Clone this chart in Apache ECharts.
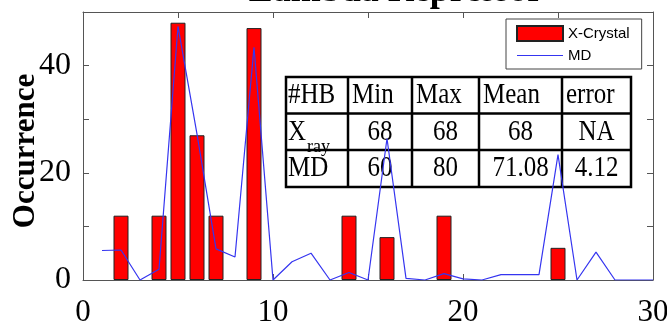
<!DOCTYPE html>
<html>
<head>
<meta charset="utf-8">
<script src="https://cdn.jsdelivr.net/npm/echarts@6/dist/echarts.min.js"></script>
<style>
html,body{margin:0;padding:0;background:#fff;}
#chart{width:667px;height:321px;}
</style>
</head>
<body>
<div id="chart"></div>
<script>
// ---- data ----
const titleText = 'Lambda Repressor';
const crystalX = [2, 4, 5, 6, 7, 9, 14, 16, 19, 25];
const crystalY = [12, 12, 48, 27, 12, 47, 12, 8, 12, 6];
const mdX = [1,2,3,4,5,6,7,8,9,10,11,12,13,14,15,16,17,18,19,20,21,22,23,24,25,26,27,28,29,30];
const mdY = [5.5,5.6,0,2,47.3,27.2,5.8,4.3,43.4,0,3.4,5,0,1.4,0,26.4,0.3,0,1.2,0.2,0,1,1,1,23.4,0,5.2,0,0,0];
const seriesNames = ['X-Crystal', 'MD'];
const yName = 'Occurrence';
const tableHeader = ['#HB', 'Min', 'Max', 'Mean', 'error'];
const tableRowXray = ['X', '68', '68', '68', 'NA'];
const tableRowMD = ['MD', '60', '80', '71.08', '4.12'];

const serif = "'Liberation Serif','Times New Roman',serif";

// ---- table graphic ----
const colX = [286, 348, 412, 479, 562, 631];
const rowY = [77, 113.5, 150, 187];
const tableEls = [];
tableEls.push({type:'rect', shape:{x:colX[0], y:rowY[0], width:colX[5]-colX[0], height:rowY[3]-rowY[0]},
  style:{fill:'none', stroke:'#000', lineWidth:2.5}, z:5});
for (let i = 1; i < colX.length - 1; i++) {
  tableEls.push({type:'line', shape:{x1:colX[i], y1:rowY[0], x2:colX[i], y2:rowY[3]}, style:{stroke:'#000', lineWidth:2.5}, z:5});
}
for (let j = 1; j < rowY.length - 1; j++) {
  tableEls.push({type:'line', shape:{x1:colX[0], y1:rowY[j], x2:colX[5], y2:rowY[j]}, style:{stroke:'#000', lineWidth:2.5}, z:5});
}
function cellText(txt, x, y, align) {
  return {type:'text', x:x, y:y, scaleY:1.2, z:6,
    style:{text:txt, font:'25px ' + serif, fill:'#000', align:align, verticalAlign:'middle'}};
}
const rowsData = [tableHeader, tableRowXray, tableRowMD];
rowsData.forEach((row, r) => {
  const cy = (rowY[r] + rowY[r+1]) / 2;
  row.forEach((txt, c) => {
    if (r === 0 || c === 0) {
      tableEls.push(cellText(txt, colX[c] + (c === 0 ? 2 : 4), cy, 'left'));
    } else {
      tableEls.push(cellText(txt, (colX[c] + colX[c+1]) / 2, cy, 'center'));
    }
  });
});
// subscript "ray"
tableEls.push({type:'text', x:307, y:147, z:6,
  style:{text:'ray', font:'18px ' + serif, fill:'#000', align:'left', verticalAlign:'middle'}});

const chart = echarts.init(document.getElementById('chart'), null, {renderer:'canvas'});
const axisLineStyle = {color:'#555', width:1};
chart.setOption({
  animation:false,
  backgroundColor:'#fff',
  grid:{left:83, right:14, top:12, bottom:41, containLabel:false, outerBoundsMode:'none'},
  legend:{
    data:[{name:seriesNames[0], icon:'rect'}, {name:seriesNames[1], icon:'path://M0,0 H100 V2.6 H0 Z'}],
    orient:'vertical', left:506, top:19,
    itemWidth:46, itemHeight:15, itemGap:6,
    padding:[6,12,6,10],
    borderColor:'#444', borderWidth:1, backgroundColor:'#fff',
    textStyle:{fontFamily:'Liberation Sans, Arial, sans-serif', fontSize:15, color:'#000'}
  },
  xAxis:[
    {type:'value', min:0, max:30, interval:5, position:'bottom',
     axisLine:{show:true, onZero:false, lineStyle:axisLineStyle},
     axisTick:{show:true, inside:true, length:6, lineStyle:axisLineStyle},
     splitLine:{show:false},
     axisLabel:{fontFamily:serif, fontSize:31, color:'#000', margin:17,
       formatter:v => (v % 10 === 0 ? String(v) : '')}},
    {type:'value', min:0, max:30, interval:5, position:'top',
     axisLine:{show:true, onZero:false, lineStyle:axisLineStyle},
     axisTick:{show:true, inside:true, length:6, lineStyle:axisLineStyle},
     splitLine:{show:false}, axisLabel:{show:false}}
  ],
  yAxis:[
    {type:'value', min:0, max:50, interval:10, position:'left',
     name:yName, nameLocation:'middle', nameGap:42, nameMoveOverlap:false,
     nameTextStyle:{fontFamily:serif, fontSize:31, fontWeight:'bold', color:'#000', padding:[0,10,0,0]},
     axisLine:{show:true, onZero:false, lineStyle:axisLineStyle},
     axisTick:{show:true, inside:true, length:6, lineStyle:axisLineStyle},
     splitLine:{show:false},
     axisLabel:{fontFamily:serif, fontSize:32, color:'#000', margin:12,
       formatter:v => (v % 20 === 0 ? String(v) : '')}},
    {type:'value', min:0, max:50, interval:10, position:'right',
     axisLine:{show:true, onZero:false, lineStyle:axisLineStyle},
     axisTick:{show:true, inside:true, length:6, lineStyle:axisLineStyle},
     splitLine:{show:false}, axisLabel:{show:false}}
  ],
  series:[
    {name:seriesNames[0], type:'bar', xAxisIndex:0, yAxisIndex:0, barWidth:15, z:2,
     itemStyle:{color:'#ff0000', borderColor:'#222', borderWidth:1},
     data:crystalX.map((x, i) => [x, crystalY[i]])},
    {name:seriesNames[1], type:'line', xAxisIndex:0, yAxisIndex:0, z:10,
     symbol:'none', showSymbol:false,
     lineStyle:{color:'#3535f0', width:1.2},
     itemStyle:{color:'#3535f0'},
     data:mdX.map((x, i) => [x, mdY[i]])}
  ],
  graphic:[
    {type:'text', x:396, y:-8.5, z:20,
     style:{text:titleText, font:'bold 36px ' + serif, fill:'#000', align:'center', verticalAlign:'middle'}},
    {type:'group', children:tableEls}
  ]
});
</script>
</body>
</html>
